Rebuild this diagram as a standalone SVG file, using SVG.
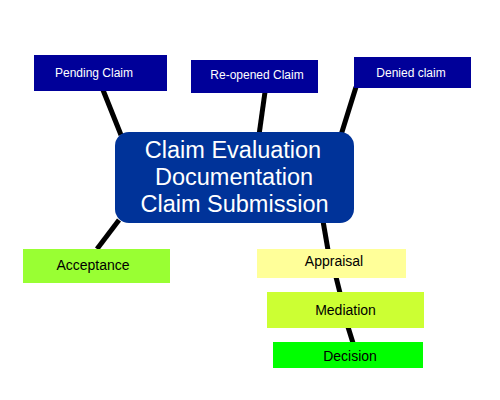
<svg xmlns="http://www.w3.org/2000/svg" width="500" height="400" viewBox="0 0 500 400">
<style>
.top{fill:#000099}
.main{fill:#003399}
.wt{fill:#ffffff;font-family:"Liberation Sans",Arial,sans-serif;text-anchor:middle}
.bt{fill:#000000;font-family:"Liberation Sans",Arial,sans-serif;text-anchor:middle;font-size:14px}
.s{font-size:12px}
.conn line{stroke:#000000;stroke-width:5}
</style>
<rect width="500" height="400" fill="#ffffff"/>
<g id="connectors" class="conn">
<line x1="103" y1="90" x2="121" y2="135"/>
<line x1="265" y1="92" x2="259" y2="135"/>
<line x1="356" y1="87" x2="341" y2="135"/>
<line x1="119" y1="220" x2="97" y2="249"/>
<line x1="323" y1="221" x2="328" y2="250"/>
<line x1="336" y1="277" x2="340" y2="293"/>
<line x1="348" y1="327" x2="353" y2="343"/>
</g>
<g id="pending">
<rect class="top" x="34" y="55" width="133" height="36"/>
<text class="wt s" x="94" y="77">Pending Claim</text>
</g>
<g id="reopened">
<rect class="top" x="191" y="60" width="127" height="33"/>
<text class="wt s" x="257" y="79">Re-opened Claim</text>
</g>
<g id="denied">
<rect class="top" x="354" y="57" width="117" height="31"/>
<text class="wt s" x="411" y="77">Denied claim</text>
</g>
<g id="main">
<rect class="main" x="115" y="132" width="239" height="91" rx="14"/>
<text class="wt" font-size="23.5" x="233" y="158">Claim Evaluation</text>
<text class="wt" font-size="23.5" x="234" y="185">Documentation</text>
<text class="wt" font-size="23.5" x="234.5" y="212">Claim Submission</text>
</g>
<g id="acceptance">
<rect x="23" y="249" width="147" height="34" fill="#99ff33"/>
<text class="bt" x="93" y="270">Acceptance</text>
</g>
<g id="appraisal">
<rect x="257" y="249" width="149" height="29" fill="#ffff99"/>
<text class="bt" x="334" y="266">Appraisal</text>
</g>
<g id="mediation">
<rect x="267" y="292" width="157" height="36" fill="#ccff33"/>
<text class="bt" x="345.5" y="315">Mediation</text>
</g>
<g id="decision">
<rect x="273" y="342" width="150" height="26" fill="#00ff00"/>
<text class="bt" x="350" y="361">Decision</text>
</g>
</svg>
